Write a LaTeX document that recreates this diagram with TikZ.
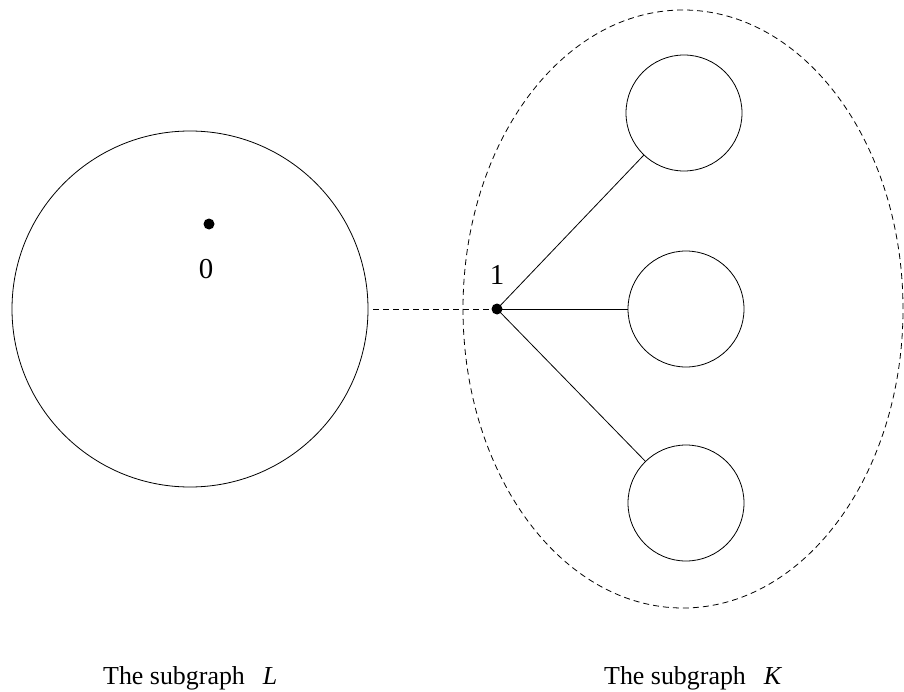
\documentclass[tikz,border=0pt]{standalone}
\usepackage{fontspec}
\setmainfont{Liberation Serif}
\begin{document}
\begin{tikzpicture}[x=1bp,y=-1bp,
  ring/.style={draw,circle,inner sep=0pt,line width=0.8bp},
  dot/.style={fill,circle,inner sep=0pt,minimum size=11bp},
  caption/.style={anchor=base west,font=\fontsize{26}{30}\selectfont,inner sep=0pt},
  num/.style={font=\fontsize{29}{32}\selectfont,inner sep=0pt},
  edge/.style={line width=0.8bp},
  dashline/.style={line width=0.8bp,dash pattern=on 6bp off 4bp}]
\useasboundingbox (0,0) rectangle (904,692);
\node[ring,minimum size=356bp] (L) at (190,309) {};
\node[ring,minimum size=116bp] (c1) at (684,113) {};
\node[ring,minimum size=116bp] (c2) at (686,309) {};
\node[ring,minimum size=116bp] (c3) at (686,503) {};
\draw[dashline] (683,309) ellipse [x radius=220bp, y radius=299bp];
\node[dot] (d0) at (209,224) {};
\node[dot] (d1) at (497,309) {};
\node[num] (n0) at (206,269) {0};
\node[num] (n1) at (497,275) {1};
\coordinate (Le) at (373,309);
\draw[dashline] (Le) -- (d1.center);
\draw[edge] (d1.center) -- (c1);
\draw[edge] (d1.center) -- (c2);
\draw[edge] (d1.center) -- (c3);
\node[caption] (tL) at (103,684) {The subgraph\hspace{18bp}\textit{L}};
\node[caption] (tK) at (604,684) {The subgraph\hspace{18bp}\textit{K}};
\end{tikzpicture}
\end{document}
